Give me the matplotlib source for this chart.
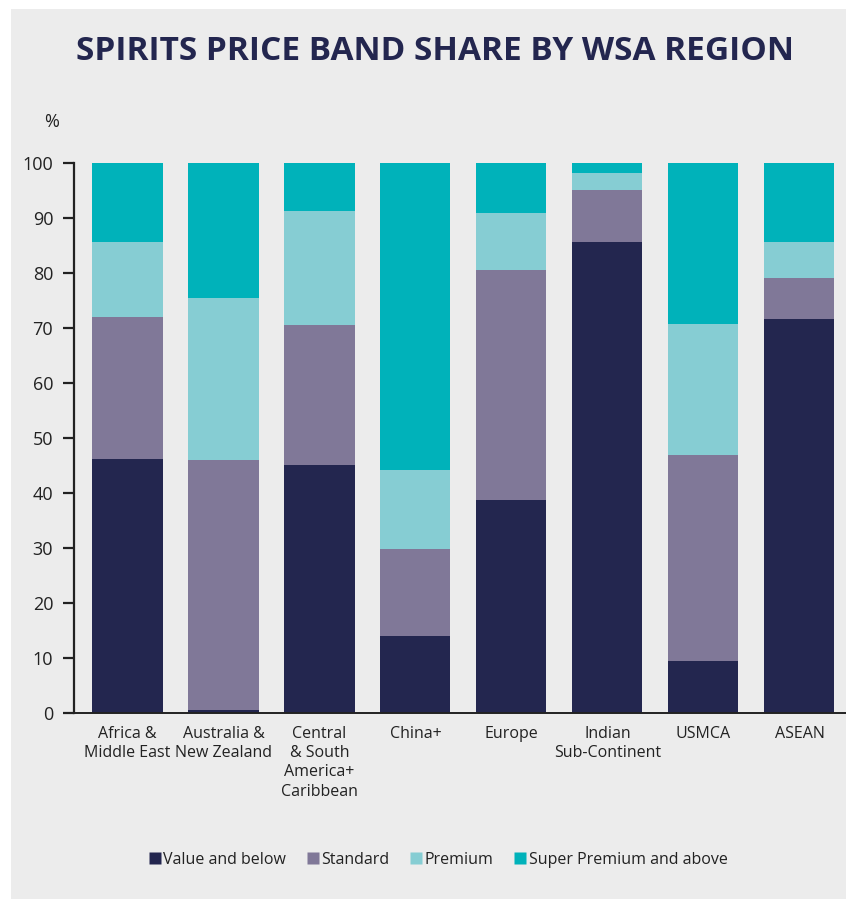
import matplotlib
matplotlib.use("Agg")
import matplotlib.pyplot as plt
from matplotlib.patches import Rectangle
from matplotlib.lines import Line2D
import numpy as np

regions = ["Africa &\nMiddle East", "Australia &\nNew Zealand", "Central\n& South\nAmerica+\nCaribbean",
           "China+", "Europe", "Indian\nSub-Continent", "USMCA", "ASEAN"]
value_below = [46.2, 0.5, 45.1, 14.0, 38.7, 85.6, 9.5, 71.6]
standard = [25.8, 45.5, 25.4, 15.8, 41.8, 9.5, 37.4, 7.5]
premium = [13.6, 29.5, 20.8, 14.4, 10.4, 3.1, 23.8, 6.5]
super_premium = [14.4, 24.5, 8.7, 55.8, 9.1, 1.8, 29.3, 14.4]
series_names = ["Value and below", "Standard", "Premium", "Super Premium and above"]
colors = ["#23264f", "#807898", "#86cdd3", "#00b2ba"]

plt.rcParams['font.family'] = ['Open Sans', 'DejaVu Sans']
text_col = "#222222"

fig = plt.figure(figsize=(8.46, 8.99), dpi=100, facecolor="white")
# grey panel behind everything
fig.patches.append(Rectangle((11 / 846, 0), 1 - 11 / 846, 1 - 9 / 899, transform=fig.transFigure,
                             facecolor="#ececec", edgecolor="none", zorder=-10))

ax = fig.add_axes([74 / 846, 1 - 713 / 899, 1 - 74 / 846, (713 - 163) / 899])
ax.set_facecolor("none")
ax.set_zorder(2)

x = np.arange(len(regions))
bottom = np.zeros(len(regions))
for vals, name, col in zip([value_below, standard, premium, super_premium], series_names, colors):
    ax.bar(x, vals, width=0.73, bottom=bottom, color=col, label=name, zorder=2)
    bottom += np.array(vals)

ax.set_xlim(-0.557, 7.485)
ax.set_ylim(0, 100)
ax.set_yticks(range(0, 101, 10))
ax.set_xticks(x)
ax.set_xticklabels(regions, fontsize=11.5, color=text_col, linespacing=1.28, va="top")
ax.tick_params(axis="x", length=0, pad=9)
ax.tick_params(axis="y", length=8, width=1.6, color=text_col, labelsize=13, labelcolor=text_col, pad=7)
for s in ["top", "right"]:
    ax.spines[s].set_visible(False)
ax.spines["left"].set_linewidth(1.6)
ax.spines["left"].set_color(text_col)
ax.spines["bottom"].set_linewidth(1.4)
ax.spines["bottom"].set_color(text_col)

fig.text(52 / 846, 1 - 122 / 899, "%", fontsize=13, color=text_col, ha="center", va="center")
fig.text(435 / 846, 1 - 52 / 899, "SPIRITS PRICE BAND SHARE BY WSA REGION", fontsize=24,
         fontweight="bold", color="#23264f", ha="center", va="center")

handles = [Line2D([], [], marker="s", linestyle="none", markersize=9, markerfacecolor=c,
                  markeredgecolor="none") for c in colors]
fig.legend(handles, series_names, loc="center", bbox_to_anchor=(437 / 846, 1 - 860 / 899), ncol=4,
           frameon=False, fontsize=11.5, handletextpad=0.05, columnspacing=1.15, handlelength=1.0,
           labelcolor=text_col)

fig.savefig("out.png", dpi=100, facecolor="white")
